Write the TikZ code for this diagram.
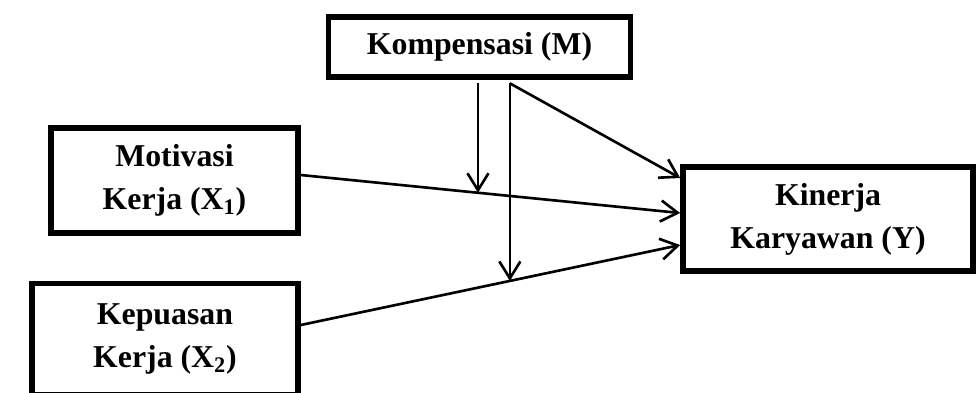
\documentclass[tikz,border=0pt]{standalone}
\usepackage{fontspec}
\setmainfont{Liberation Serif}
\usetikzlibrary{arrows.meta}

\begin{document}
\begin{tikzpicture}[
    var/.style={draw, line width=3.2pt, align=center, inner sep=0pt,
        font=\bfseries\fontsize{18.1}{24.5}\selectfont},
    link/.style={line width=1.5pt, -{Straight Barb[length=3.4mm,width=4.2mm]}}
]
    \useasboundingbox (0,0) rectangle (19.54,-7.84);
    \clip (0,0) rectangle (19.54,-7.84);

    % Variables
    \node[var, minimum width=6.04cm, minimum height=1.2cm] (m) at (9.59,-0.94) {Kompensasi (M)};
    \node[var, minimum width=4.94cm, minimum height=2.1cm] (x1) at (3.49,-3.61) {Motivasi\\Kerja (X\textsubscript{1})};
    \node[var, minimum width=5.32cm, minimum height=2.22cm] (x2) at (3.30,-6.78) {Kepuasan\\Kerja (X\textsubscript{2})};
    \node[var, minimum width=5.8cm, minimum height=2.08cm] (y) at (16.56,-4.38) {Kinerja\\Karyawan (Y)};

    % Direct effects
    \draw[link] ([yshift=0.11cm]x1.east) -- node[coordinate, pos=0.467] (p1) {} ([yshift=0.12cm]y.west);
    \draw[link] ([yshift=0.28cm]x2.east) -- node[coordinate, pos=0.551] (p2) {} ([yshift=-0.52cm]y.west);

    % Moderation
    \coordinate (mb) at ([yshift=-0.07cm]m.south);
    \draw[link] (mb -| p1) -- (p1);
    \draw[link] (mb -| p2) -- (p2);
    \draw[link] (mb -| p2) -- ([yshift=0.82cm]y.west);
\end{tikzpicture}
\end{document}
